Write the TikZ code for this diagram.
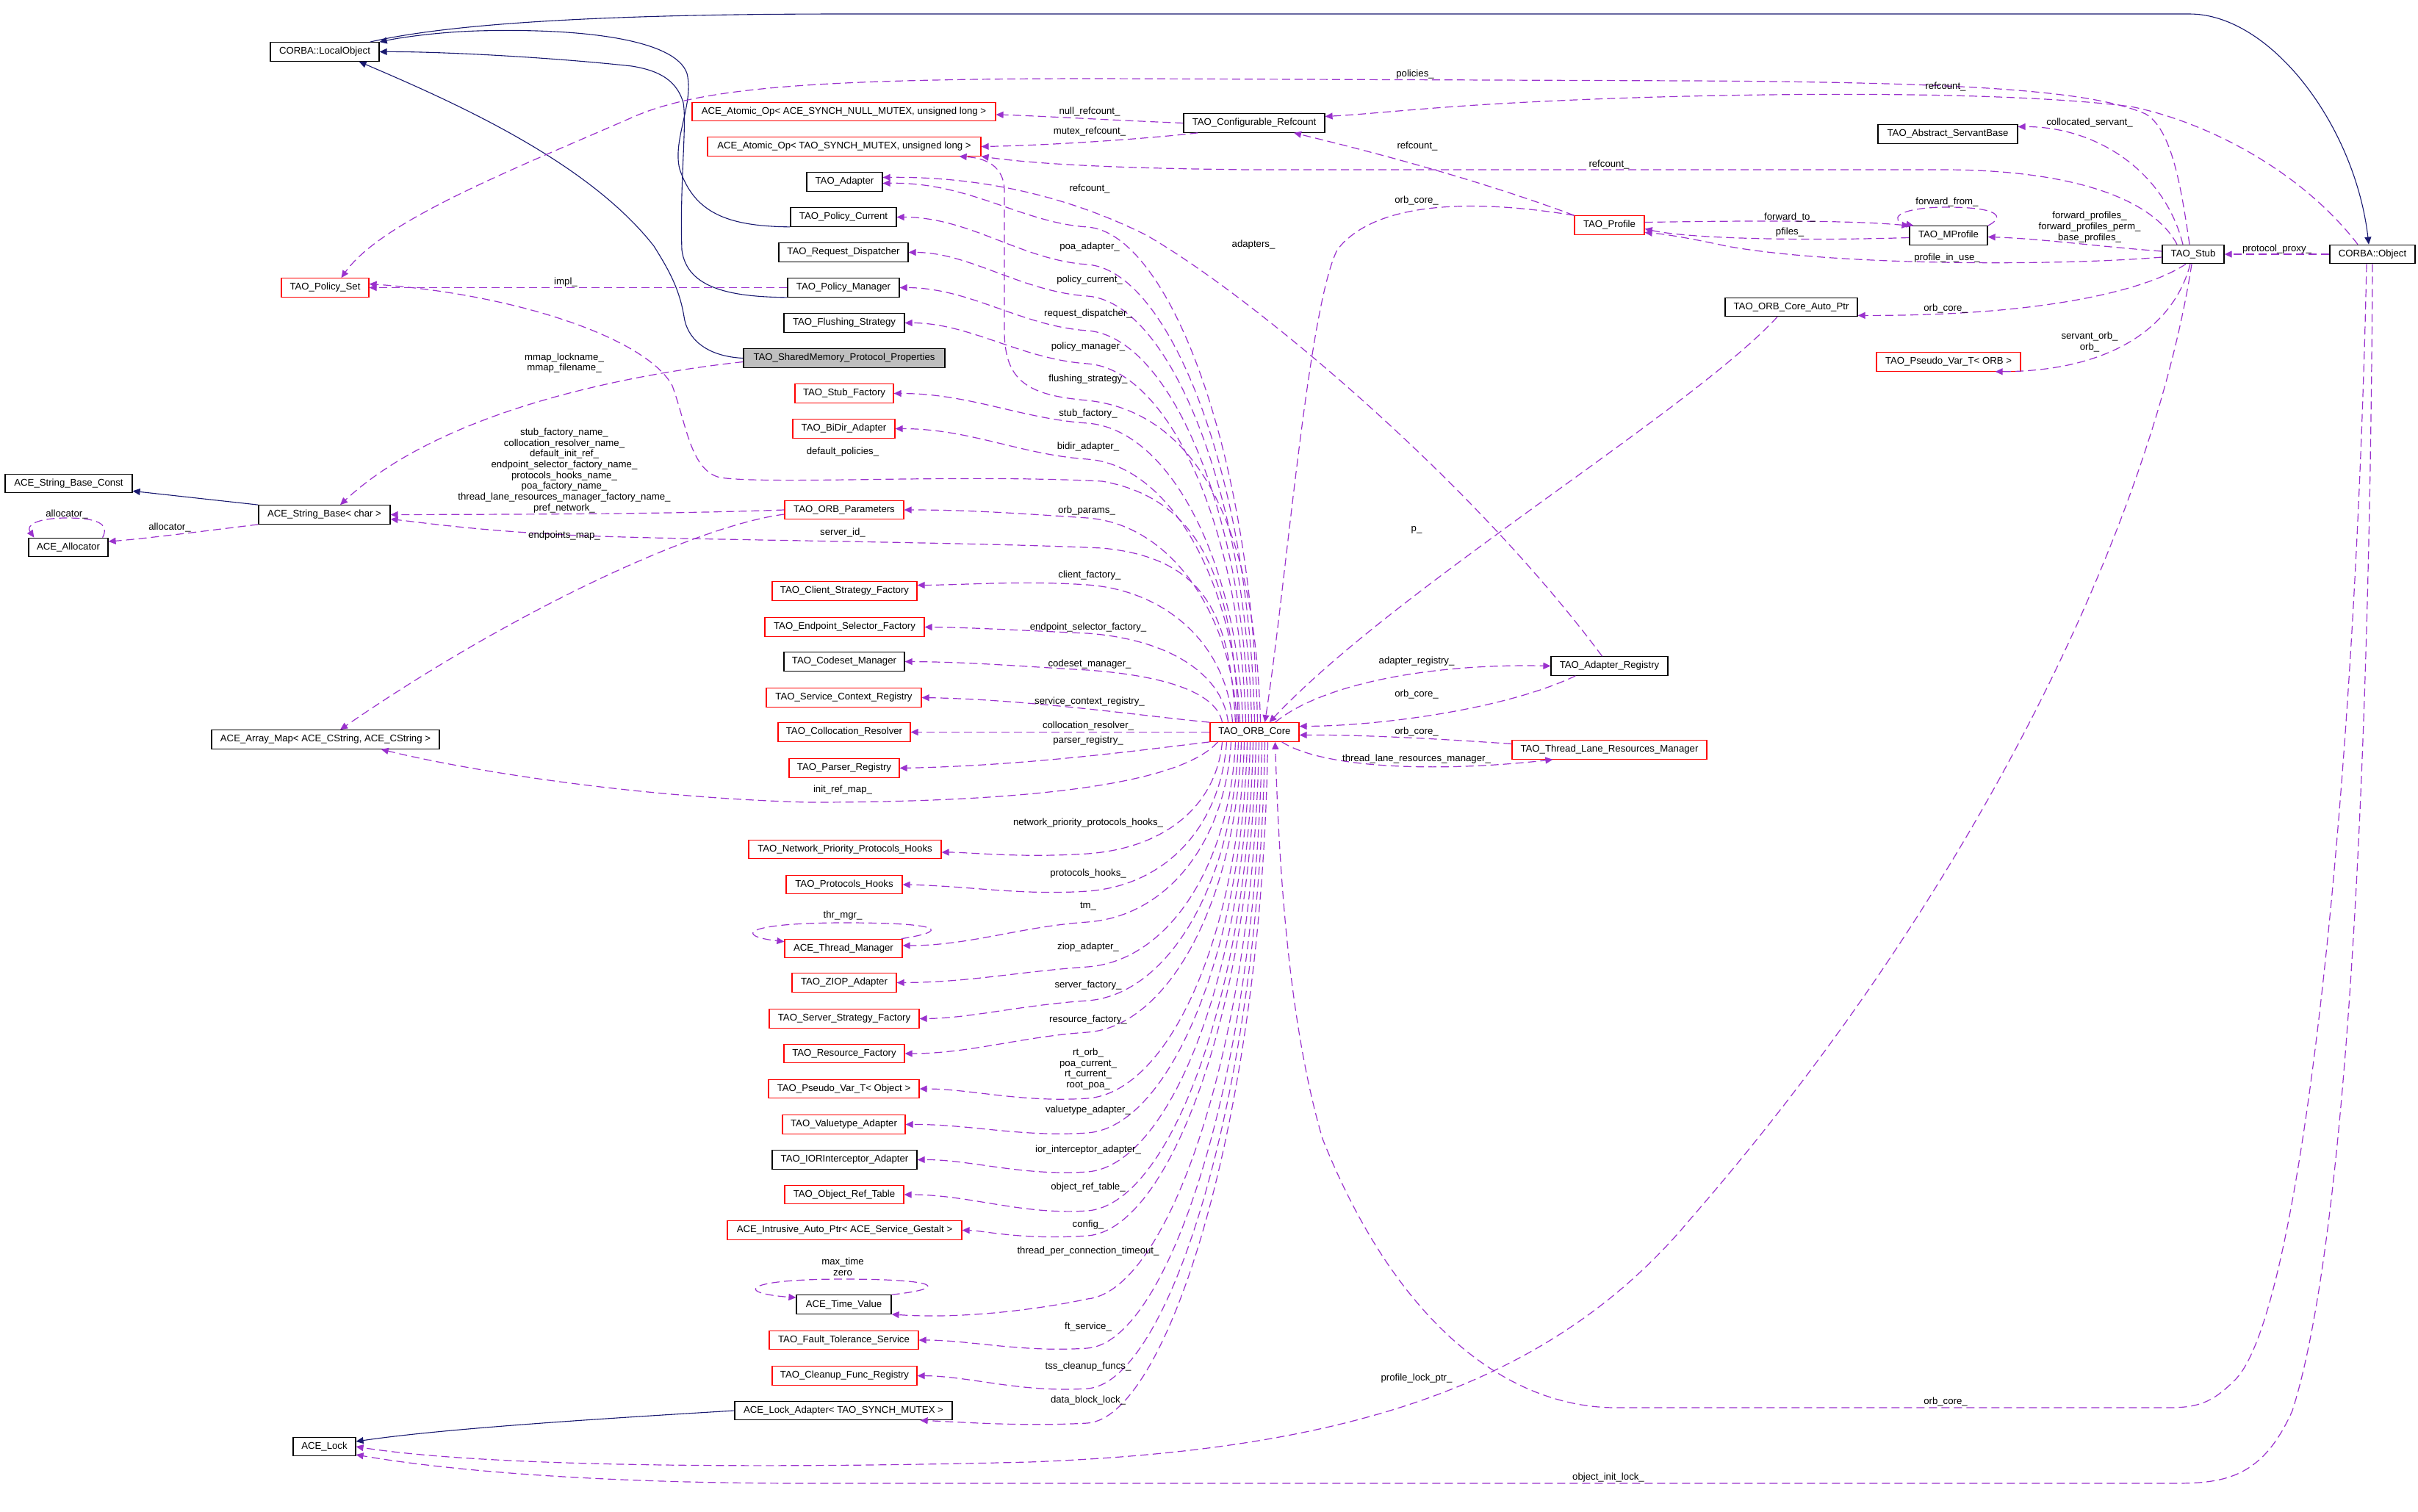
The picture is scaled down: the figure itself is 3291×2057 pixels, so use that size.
\documentclass[tikz,border=0pt]{standalone}
\usepackage{fontspec}
\setmainfont{Liberation Sans}
\usetikzlibrary{arrows.meta}
\definecolor{purp}{HTML}{9A32CD}
\definecolor{navyc}{HTML}{191970}
\definecolor{boxred}{HTML}{FF0000}
\definecolor{smpgray}{HTML}{BFBFBF}
\newcommand{\dgfont}{\fontsize{6.6pt}{7.35pt}\selectfont}
\begin{document}
\begin{tikzpicture}[x=0.5pt,y=-0.5pt,
 cls/.style={draw=black, line width=0.6pt, minimum height=12.75pt, inner sep=0pt, font=\dgfont},
 rcls/.style={cls, draw=boxred},
 use/.style={draw=purp, line width=0.6pt, dash pattern=on 5.5pt off 3pt, -{Triangle[length=5pt,width=4.5pt,fill=purp]}},
 inh/.style={draw=navyc, line width=0.55pt, -{Triangle[length=5pt,width=4.5pt,fill=navyc]}},
 lbl/.style={font=\dgfont, inner sep=0pt, align=center},
]
\useasboundingbox (0,0) rectangle (3291,2057);

% ---------- nodes ----------
\node[cls,minimum width=74pt] (LO) at (442,70.5) {CORBA::LocalObject};
\node[rcls,minimum width=206.5pt] (AtomNull) at (1148.5,152) {ACE\_Atomic\_Op< ACE\_SYNCH\_NULL\_MUTEX, unsigned long >};
\node[rcls,minimum width=186pt] (AtomTAO) at (1149,199.5) {ACE\_Atomic\_Op< TAO\_SYNCH\_MUTEX, unsigned long >};
\node[cls,minimum width=51.5pt] (Adapter) at (1149.5,247.5) {TAO\_Adapter};
\node[cls,minimum width=72pt] (PolCur) at (1148,295.5) {TAO\_Policy\_Current};
\node[cls,minimum width=88pt] (ReqDisp) at (1148,343.5) {TAO\_Request\_Dispatcher};
\node[cls,minimum width=76pt] (PolMgr) at (1148,391.5) {TAO\_Policy\_Manager};
\node[cls,minimum width=82pt] (Flush) at (1149,439.5) {TAO\_Flushing\_Strategy};
\node[cls,fill=smpgray,minimum width=137pt] (SMP) at (1149,487.5) {TAO\_SharedMemory\_Protocol\_Properties};
\node[rcls,minimum width=67pt] (StubFac) at (1149,535.5) {TAO\_Stub\_Factory};
\node[rcls,minimum width=69.5pt] (BiDir) at (1148.5,583.5) {TAO\_BiDir\_Adapter};
\node[rcls,minimum width=81pt] (ORBParams) at (1149,694) {TAO\_ORB\_Parameters};
\node[rcls,minimum width=98.5pt] (ClientSF) at (1149.5,804.5) {TAO\_Client\_Strategy\_Factory};
\node[rcls,minimum width=108.5pt] (EndSel) at (1149.5,853.5) {TAO\_Endpoint\_Selector\_Factory};
\node[cls,minimum width=82pt] (Codeset) at (1149,900.5) {TAO\_Codeset\_Manager};
\node[rcls,minimum width=105.5pt] (SvcCtx) at (1148.5,949.5) {TAO\_Service\_Context\_Registry};
\node[rcls,minimum width=90pt] (Colloc) at (1149,996.5) {TAO\_Collocation\_Resolver};
\node[rcls,minimum width=75pt] (Parser) at (1149,1045.5) {TAO\_Parser\_Registry};
\node[rcls,minimum width=131pt] (NetPri) at (1150,1156) {TAO\_Network\_Priority\_Protocols\_Hooks};
\node[rcls,minimum width=79pt] (ProtHooks) at (1149,1204) {TAO\_Protocols\_Hooks};
\node[rcls,minimum width=80pt] (ThrMgr) at (1148,1291) {ACE\_Thread\_Manager};
\node[rcls,minimum width=71pt] (ZIOP) at (1149,1337.5) {TAO\_ZIOP\_Adapter};
\node[rcls,minimum width=102pt] (ServerSF) at (1149,1386.5) {TAO\_Server\_Strategy\_Factory};
\node[rcls,minimum width=82pt] (ResFac) at (1149,1434) {TAO\_Resource\_Factory};
\node[rcls,minimum width=102.5pt] (PVObj) at (1148.5,1482) {TAO\_Pseudo\_Var\_T< Object >};
\node[rcls,minimum width=83.5pt] (ValAd) at (1148.5,1530.5) {TAO\_Valuetype\_Adapter};
\node[cls,minimum width=98.5pt] (IOR) at (1149.5,1578.5) {TAO\_IORInterceptor\_Adapter};
\node[rcls,minimum width=81pt] (ORT) at (1149,1626) {TAO\_Object\_Ref\_Table};
\node[rcls,minimum width=159.5pt] (Intr) at (1149.5,1674.5) {ACE\_Intrusive\_Auto\_Ptr< ACE\_Service\_Gestalt >};
\node[cls,minimum width=64.5pt] (TimeV) at (1148.5,1775.5) {ACE\_Time\_Value};
\node[rcls,minimum width=101.5pt] (FT) at (1148.5,1824) {TAO\_Fault\_Tolerance\_Service};
\node[rcls,minimum width=98.5pt] (Cleanup) at (1149.5,1872.5) {TAO\_Cleanup\_Func\_Registry};
\node[cls,minimum width=148pt] (LockAd) at (1148,1920) {ACE\_Lock\_Adapter< TAO\_SYNCH\_MUTEX >};
\node[cls,minimum width=42.5pt] (Lock) at (441.5,1969) {ACE\_Lock};
\node[rcls,minimum width=59.5pt] (PolSet) at (442.5,391.5) {TAO\_Policy\_Set};
\node[cls,minimum width=86.5pt] (SBC) at (93.5,658) {ACE\_String\_Base\_Const};
\node[cls,minimum width=89.5pt] (SB) at (441.5,700.5) {ACE\_String\_Base< char >};
\node[cls,minimum width=54pt] (Alloc) at (93,745) {ACE\_Allocator};
\node[cls,minimum width=155pt] (AMap) at (443,1006.5) {ACE\_Array\_Map< ACE\_CString, ACE\_CString >};
\node[rcls,minimum width=60.5pt] (Core) at (1707.5,996.5) {TAO\_ORB\_Core};
\node[cls,minimum width=96pt] (CfgRef) at (1707,167.5) {TAO\_Configurable\_Refcount};
\node[cls,minimum width=79.5pt] (AdReg) at (2190.5,906.5) {TAO\_Adapter\_Registry};
\node[rcls,minimum width=132.5pt] (TLRM) at (2190.5,1020.5) {TAO\_Thread\_Lane\_Resources\_Manager};
\node[cls,minimum width=95pt] (ASB) at (2651,182.5) {TAO\_Abstract\_ServantBase};
\node[rcls,minimum width=47.5pt] (Prof) at (2190.5,306.5) {TAO\_Profile};
\node[cls,minimum width=53pt] (MProf) at (2652,320.5) {TAO\_MProfile};
\node[cls,minimum width=42pt] (Stub) at (2985,346) {TAO\_Stub};
\node[cls,minimum width=58pt] (Obj) at (3229,346) {CORBA::Object};
\node[cls,minimum width=90pt] (CAP) at (2438,418) {TAO\_ORB\_Core\_Auto\_Ptr};
\node[rcls,minimum width=98pt] (PVORB) at (2652,492.5) {TAO\_Pseudo\_Var\_T< ORB >};

% ---------- inheritance ----------
\draw[inh] ([xshift=-6.5pt]LO.north east) .. controls (620,30) and (850,19) .. (1150,19) -- (2980,19) .. controls (3090,19) and (3205,170) .. ([xshift=-2.5pt]Obj.north);
\draw[inh] (PolCur.south west) .. controls (990,308) and (945,290) .. (925,230) .. controls (915,190) and (945,140) .. (935,100) .. controls (920,55) and (800,38) .. (650,42) .. controls (590,44) and (540,52) .. (LO.north east);
\draw[inh] (PolMgr.south west) .. controls (1000,404) and (935,395) .. (928,340) .. controls (925,250) and (935,170) .. (930,140) .. controls (920,105) and (890,95) .. (860,90) .. controls (750,78) and (600,70) .. (LO.east);
\draw[inh] (SMP.west) .. controls (960,485) and (935,460) .. (931,431) .. controls (925,395) and (912,370) .. (890,335) .. controls (800,220) and (620,140) .. ([xshift=-14pt]LO.south east);
\draw[inh] (SB.north west) -- ([yshift=1.5pt]SBC.south east);
\draw[inh] (LockAd.west) .. controls (800,1932) and (600,1945) .. ([yshift=3.5pt]Lock.east);

% ---------- usage: left part ----------
\draw[use] (PolMgr.west) -- (PolSet.east);
\draw[use] ([xshift=-2.5pt]Stub.north) .. controls (2968,250) and (2955,175) .. (2920,155) .. controls (2850,125) and (2700,112) .. (2300,110) -- (1500,107) .. controls (1100,107) and (950,120) .. (860,160) .. controls (700,230) and (520,300) .. ([xshift=11pt]PolSet.north);
\draw[use] ([yshift=-2.5pt]SMP.west) .. controls (850,510) and (600,560) .. ([xshift=10.75pt]SB.north);
\draw[use] (SB.south west) .. controls (300,720) and (200,733) .. ([yshift=4pt]Alloc.east);
\draw[use] ([xshift=-4pt]Alloc.north east) .. controls (150,712) and (130,705) .. (91,705) .. controls (50,705) and (35,715) .. ([xshift=4pt]Alloc.north west);
\draw[use] (ORBParams.west) .. controls (900,700) and (700,700) .. (SB.east);
\draw[use] ([yshift=-3pt]ORBParams.west) .. controls (950,715) and (700,830) .. ([xshift=10pt]AMap.north);
\draw[use] ([xshift=-25pt]Core.south) .. controls (1600,1075) and (1350,1092) .. (1100,1092) .. controls (850,1085) and (620,1045) .. (AMap.-10);
\draw[use] ([xshift=-11pt]Core.north) .. controls (1678,800) and (1640,680) .. (1500,655) .. controls (1300,645) and (1050,660) .. (980,650) .. controls (940,640) and (935,580) .. (915,525) .. controls (880,460) and (700,400) .. ([yshift=2.5pt]PolSet.east);
\draw[use] ([xshift=-13pt]Core.north) .. controls (1674,850) and (1650,760) .. (1500,746) .. controls (1300,737) and (900,735) .. (770,728) .. controls (650,722) and (580,712) .. ([yshift=-3pt]SB.east);
\draw[use] (CfgRef.west) .. controls (1500,163) and (1420,158) .. ([yshift=-2pt]AtomNull.east);
\draw[use] ([xshift=10pt]CfgRef.south west) .. controls (1550,190) and (1420,198) .. (AtomTAO.east);
\draw[use] ([xshift=4pt]Core.north) .. controls (1708,700) and (1620,560) .. (1480,545) .. controls (1400,538) and (1367,520) .. (1367,450) -- (1367,260) .. controls (1367,225) and (1340,215) .. ([xshift=-15pt]AtomTAO.south east);

% ---------- usage: ORB core to column ----------
\draw[use] ([xshift=2pt]Core.north) .. controls (1704,613) and (1590,317) .. (1480,309) .. controls (1390,303) and (1320,247.5) .. ([yshift=-1pt]Adapter.east);
\draw[use] (Core.north) .. controls (1700,641) and (1590,368) .. (1480,360) .. controls (1390,354) and (1320,295.5) .. (PolCur.east);
\draw[use] ([xshift=-2pt]Core.north) .. controls (1696,664) and (1590,411) .. (1480,403) .. controls (1390,397) and (1320,343.5) .. (ReqDisp.east);
\draw[use] ([xshift=-4pt]Core.north) .. controls (1692,690) and (1590,458) .. (1480,450) .. controls (1390,444) and (1320,391.5) .. (PolMgr.east);
\draw[use] ([xshift=-6pt]Core.north) .. controls (1688,715) and (1590,503) .. (1480,495) .. controls (1390,489) and (1320,439.5) .. (Flush.east);
\draw[use] ([xshift=-8pt]Core.north) .. controls (1684,760) and (1590,584) .. (1480,576) .. controls (1390,570) and (1320,535.5) .. (StubFac.east);
\draw[use] ([xshift=-10pt]Core.north) .. controls (1680,787) and (1590,633) .. (1480,625) .. controls (1390,619) and (1320,583.5) .. (BiDir.east);
\draw[use] ([xshift=-12pt]Core.north) .. controls (1676,830) and (1590,713) .. (1480,705) .. controls (1390,699) and (1320,694) .. (ORBParams.east);
\draw[use] ([xshift=-15pt]Core.north) .. controls (1670,880) and (1590,804) .. (1480,796) .. controls (1390,790) and (1320,796) .. ([yshift=4pt]ClientSF.east);
\draw[use] ([xshift=-18pt]Core.north) .. controls (1664,917) and (1590,870) .. (1480,862) .. controls (1390,858) and (1320,854) .. (EndSel.east);
\draw[use] ([xshift=-22pt]Core.north) .. controls (1656,944) and (1590,920) .. (1480,912) .. controls (1390,907) and (1320,901) .. (Codeset.east);
\draw[use] (Core.north west) .. controls (1560,975) and (1400,952) .. (SvcCtx.east);
\draw[use] (Core.west) -- (Colloc.east);
\draw[use] (Core.south west) .. controls (1560,1020) and (1400,1042) .. (Parser.east);
\draw[use] ([xshift=-22pt]Core.south) .. controls (1656,1093) and (1590,1154) .. (1480,1162) .. controls (1390,1168) and (1320,1160) .. ([yshift=-2pt]NetPri.east);
\draw[use] ([xshift=-19pt]Core.south) .. controls (1662,1121) and (1590,1205) .. (1480,1213) .. controls (1390,1219) and (1320,1206) .. (ProtHooks.east);
\draw[use] ([xshift=-16pt]Core.south) .. controls (1668,1144) and (1590,1247) .. (1480,1255) .. controls (1390,1261) and (1320,1287) .. ([yshift=2pt]ThrMgr.east);
\draw[use] ([xshift=-13pt]Core.south) .. controls (1674,1178) and (1590,1308) .. (1480,1316) .. controls (1390,1322) and (1320,1337) .. (ZIOP.east);
\draw[use] ([xshift=-11pt]Core.south) .. controls (1678,1203) and (1590,1354) .. (1480,1362) .. controls (1390,1368) and (1320,1386) .. (ServerSF.east);
\draw[use] ([xshift=-9pt]Core.south) .. controls (1682,1227) and (1590,1397) .. (1480,1405) .. controls (1390,1411) and (1320,1434) .. (ResFac.east);
\draw[use] ([xshift=-7pt]Core.south) .. controls (1686,1276) and (1590,1487) .. (1480,1495) .. controls (1390,1501) and (1320,1482) .. (PVObj.east);
\draw[use] ([xshift=-5pt]Core.south) .. controls (1690,1302) and (1590,1534) .. (1480,1542) .. controls (1390,1548) and (1320,1530) .. (ValAd.east);
\draw[use] ([xshift=-3pt]Core.south) .. controls (1694,1331) and (1590,1587) .. (1480,1595) .. controls (1390,1601) and (1320,1578) .. (IOR.east);
\draw[use] ([xshift=-1pt]Core.south) .. controls (1698,1360) and (1590,1640) .. (1480,1648) .. controls (1390,1654) and (1320,1626) .. (ORT.east);
\draw[use] ([xshift=1pt]Core.south) .. controls (1702,1379) and (1590,1674) .. (1480,1682) .. controls (1390,1688) and (1340,1675) .. (Intr.east);
\draw[use] ([xshift=3pt]Core.south) .. controls (1706,1425) and (1590,1757) .. (1480,1768) .. controls (1400,1785) and (1300,1795) .. (TimeV.south east);
\draw[use] ([xshift=5pt]Core.south) .. controls (1710,1463) and (1590,1827) .. (1480,1835) .. controls (1390,1841) and (1320,1824) .. (FT.east);
\draw[use] ([xshift=7pt]Core.south) .. controls (1714,1494) and (1590,1882) .. (1480,1890) .. controls (1390,1896) and (1320,1873) .. (Cleanup.east);
\draw[use] ([xshift=9pt]Core.south) .. controls (1718,1519) and (1590,1929) .. (1480,1937) .. controls (1390,1942) and (1300,1935) .. ([xshift=-22pt]LockAd.south east);
\draw[use] ([xshift=-1pt]ThrMgr.north east) .. controls (1290,1268) and (1290,1256) .. (1150,1256) .. controls (1010,1256) and (1000,1274) .. ([yshift=-2pt]ThrMgr.north west);
\draw[use] (TimeV.north east) .. controls (1290,1754) and (1285,1741) .. (1147,1741) .. controls (1010,1741) and (1000,1760) .. ([yshift=-2pt]TimeV.north west);

% ---------- usage: right part ----------
\draw[use] ([xshift=14pt]Core.north) .. controls (1800,930) and (1950,903) .. (AdReg.west);
\draw[use] ([xshift=17pt]AdReg.south west) .. controls (2050,965) and (1880,988) .. ([yshift=4pt]Core.east);
\draw[use] ([yshift=4pt]TLRM.west) .. controls (1950,1005) and (1850,1000) .. ([yshift=-2pt]Core.east);
\draw[use] ([xshift=-12pt]Core.south east) .. controls (1800,1045) and (1950,1052) .. ([xshift=28pt]TLRM.south west);
\draw[use] ([xshift=-9.5pt]CAP.south) .. controls (2300,560) and (1900,800) .. ([xshift=10pt]Core.north);
\draw[use] (Prof.north west) .. controls (2000,270) and (1870,275) .. (1820,340) .. controls (1780,420) and (1750,800) .. ([xshift=7pt]Core.north);
\draw[use] (Prof.north west) .. controls (2000,240) and (1840,200) .. ([xshift=27pt]CfgRef.south);
\draw[use] ([xshift=-5pt]AdReg.north) .. controls (2000,650) and (1700,400) .. (1560,320) .. controls (1450,265) and (1330,240) .. ([yshift=3pt]Adapter.east);
\draw[use] ([xshift=-10pt]Obj.north) .. controls (3130,230) and (3000,165) .. (2900,145) .. controls (2700,120) and (2300,128) .. (2100,138) .. controls (1950,145) and (1870,155) .. ([yshift=4.5pt]CfgRef.east);
\draw[use] ([xshift=-7pt]Stub.north) .. controls (2945,230) and (2850,172) .. ([yshift=5pt]ASB.east);
\draw[use] ([xshift=-11pt]Stub.north) .. controls (2930,270) and (2820,232) .. (2650,231) -- (1700,231) .. controls (1500,229) and (1400,222) .. (AtomTAO.south east);
\draw[use] (Obj.west) -- (Stub.east);
\draw[use] ([yshift=2pt]Stub.west) .. controls (2850,335) and (2780,325) .. ([yshift=-1pt]MProf.east);
\draw[use] ([yshift=-2pt]Stub.west) .. controls (2800,362) and (2500,362) .. (2350,335) .. controls (2290,322) and (2260,318) .. ([yshift=-5pt]Prof.east);
\draw[use] ([yshift=2pt]Prof.east) .. controls (2400,300) and (2520,300) .. (MProf.north west);
\draw[use] ([yshift=-1.5pt]MProf.west) .. controls (2450,328) and (2300,325) .. ([yshift=-2.5pt]Prof.east);
\draw[use] (MProf.north east) .. controls (2730,295) and (2720,282) .. (2650,282) .. controls (2580,282) and (2570,300) .. ([xshift=3pt]MProf.north west);
\draw[use] ([xshift=-5pt]Stub.south) .. controls (2930,390) and (2800,430) .. ([yshift=1pt]CAP.south east);
\draw[use] ([xshift=-2pt]Stub.south) .. controls (2960,440) and (2880,505) .. ([xshift=-17.5pt]PVORB.south east);
\draw[use] ([xshift=-1pt]Stub.south) .. controls (2930,700) and (2700,1200) .. (2300,1660) .. controls (2100,1900) and (1800,1975) .. (1400,1990) .. controls (1000,2000) and (650,1995) .. (Lock.east);
\draw[use] ([xshift=-4pt]Obj.south) .. controls (3205,1100) and (3130,1800) .. (3040,1880) .. controls (3010,1910) and (2990,1916) .. (2950,1916) -- (2200,1916) .. controls (2050,1916) and (1900,1800) .. (1800,1550) .. controls (1750,1380) and (1740,1150) .. ([xshift=14pt]Core.south);
\draw[use] (Obj.south) .. controls (3225,1100) and (3190,1700) .. (3120,1920) .. controls (3080,2010) and (3030,2019) .. (2960,2019) -- (1100,2019) .. controls (800,2019) and (600,2000) .. ([yshift=-5.5pt]Lock.east);

% ---------- labels ----------
\node[lbl] (t1) at (1926,101) {policies\_};
\node[lbl] (t2) at (1483,152) {null\_refcount\_};
\node[lbl] (t3) at (1483,179) {mutex\_refcount\_};
\node[lbl] (t4) at (1929,199) {refcount\_};
\node[lbl] (t5) at (1483,257) {refcount\_};
\node[lbl] (t6) at (1928,273) {orb\_core\_};
\node[lbl] (t7) at (1706,333) {adapters\_};
\node[lbl] (t8) at (1483,336) {poa\_adapter\_};
\node[lbl] (t9) at (1483,381) {policy\_current\_};
\node[lbl] (t10) at (1481,427) {request\_dispatcher\_};
\node[lbl] (t11) at (1481,472) {policy\_manager\_};
\node[lbl] (t12) at (1481,516) {flushing\_strategy\_};
\node[lbl] (t13) at (1481,563) {stub\_factory\_};
\node[lbl] (t14) at (1481,608) {bidir\_adapter\_};
\node[lbl] (t15) at (1147,615) {default\_policies\_};
\node[lbl] (t16) at (1479,695) {orb\_params\_};
\node[lbl] (t17) at (770,384) {impl\_};
\node[lbl] (t18) at (768,494) {mmap\_lockname\_\\mmap\_filename\_};
\node[lbl] (t19) at (768,640.5) {stub\_factory\_name\_\\collocation\_resolver\_name\_\\default\_init\_ref\_\\endpoint\_selector\_factory\_name\_\\protocols\_hooks\_name\_\\poa\_factory\_name\_\\thread\_lane\_resources\_manager\_factory\_name\_\\pref\_network\_};
\node[lbl] (t20) at (91,700) {allocator\_};
\node[lbl] (t21) at (231,718) {allocator\_};
\node[lbl] (t22) at (768,729) {endpoints\_map\_};
\node[lbl] (t23) at (1147,725) {server\_id\_};
\node[lbl] (t24) at (1483,783) {client\_factory\_};
\node[lbl] (t25) at (1928,721) {p\_};
\node[lbl] (t26) at (1481,854) {endpoint\_selector\_factory\_};
\node[lbl] (t27) at (1483,904) {codeset\_manager\_};
\node[lbl] (t28) at (1483,955) {service\_context\_registry\_};
\node[lbl] (t29) at (1928,900) {adapter\_registry\_};
\node[lbl] (t30) at (1928,945) {orb\_core\_};
\node[lbl] (t31) at (1481,988) {collocation\_resolver\_};
\node[lbl] (t32) at (1481,1008) {parser\_registry\_};
\node[lbl] (t33) at (1928,996) {orb\_core\_};
\node[lbl] (t34) at (1928,1033) {thread\_lane\_resources\_manager\_};
\node[lbl] (t35) at (1147,1075) {init\_ref\_map\_};
\node[lbl] (t36) at (1481,1120) {network\_priority\_protocols\_hooks\_};
\node[lbl] (t37) at (1481,1189) {protocols\_hooks\_};
\node[lbl] (t38) at (1481,1234) {tm\_};
\node[lbl] (t39) at (1147,1246) {thr\_mgr\_};
\node[lbl] (t40) at (1481,1289) {ziop\_adapter\_};
\node[lbl] (t41) at (1481,1341) {server\_factory\_};
\node[lbl] (t42) at (1481,1388) {resource\_factory\_};
\node[lbl] (t43) at (1481,1455) {rt\_orb\_\\poa\_current\_\\rt\_current\_\\root\_poa\_};
\node[lbl] (t44) at (1481,1511) {valuetype\_adapter\_};
\node[lbl] (t45) at (1481,1565) {ior\_interceptor\_adapter\_};
\node[lbl] (t46) at (1481,1616) {object\_ref\_table\_};
\node[lbl] (t47) at (1481,1667) {config\_};
\node[lbl] (t48) at (1481,1703) {thread\_per\_connection\_timeout\_};
\node[lbl] (t49) at (1147,1724.5) {max\_time\\zero};
\node[lbl] (t50) at (1481,1806) {ft\_service\_};
\node[lbl] (t51) at (1481,1860) {tss\_cleanup\_funcs\_};
\node[lbl] (t52) at (1481,1906) {data\_block\_lock\_};
\node[lbl] (t53) at (1928,1876) {profile\_lock\_ptr\_};
\node[lbl] (t54) at (2648,1908) {orb\_core\_};
\node[lbl] (t55) at (2189,2011) {object\_init\_lock\_};
\node[lbl] (t56) at (2648,118) {refcount\_};
\node[lbl] (t57) at (2844,167) {collocated\_servant\_};
\node[lbl] (t58) at (2190,224) {refcount\_};
\node[lbl] (t59) at (2650,275) {forward\_from\_};
\node[lbl] (t60) at (2436,296) {forward\_to\_};
\node[lbl] (t61) at (2436,316) {pfiles\_};
\node[lbl] (t62) at (2844,309) {forward\_profiles\_\\forward\_profiles\_perm\_\\base\_profiles\_};
\node[lbl] (t63) at (3099,339) {protocol\_proxy\_};
\node[lbl] (t64) at (2650,351) {profile\_in\_use\_};
\node[lbl] (t65) at (2648,420) {orb\_core\_};
\node[lbl] (t66) at (2844,465.5) {servant\_orb\_\\orb\_};
\end{tikzpicture}
\end{document}
